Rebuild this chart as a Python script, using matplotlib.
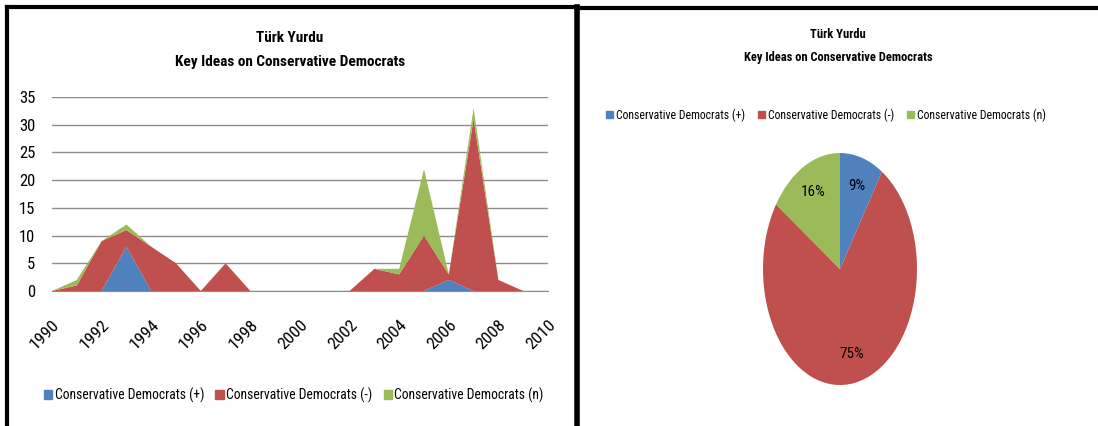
import matplotlib
matplotlib.use('Agg')
import matplotlib.pyplot as plt
from matplotlib.lines import Line2D
from matplotlib.patches import Patch

plt.rcParams['font.family'] = ['Roboto Condensed', 'Carlito', 'DejaVu Sans']

# data
years = list(range(1990, 2011))
positive = [0, 0, 0, 8, 0, 0, 0, 0, 0, 0, 0, 0, 0, 0, 0, 0, 2, 0, 0, 0, 0]
negative = [0, 1, 9, 3, 8, 5, 0, 5, 0, 0, 0, 0, 0, 4, 3, 10, 1, 31, 2, 0, 0]
neutral = [0, 1, 0, 1, 0, 0, 0, 0, 0, 0, 0, 0, 0, 0, 1, 12, 0, 2, 0, 0, 0]
series_names = ['Conservative Democrats (+)', 'Conservative Democrats (-)',
                'Conservative Democrats (n)']
colors = ['#4F81BD', '#C0504D', '#9BBB59']

W, H = 1098, 426
fig = plt.figure(figsize=(W / 100, H / 100), dpi=100)


def px_axes(x0, y0, x1, y1):
    # pixel box (top-left origin) -> figure axes
    return fig.add_axes([x0 / W, 1 - y1 / H, (x1 - x0) / W, (y1 - y0) / H])


# ---- left: stacked area chart ----
ax = px_axes(52, 97, 548, 291)
ax.stackplot(years, positive, negative, neutral, colors=colors, linewidth=0, zorder=3)
ax.set_xlim(1990, 2010)
ax.set_ylim(0, 35)
ax.set_yticks(range(0, 36, 5))
ax.set_xticks(range(1990, 2011, 2))
ax.yaxis.grid(True, color='#8c8c8c', linewidth=1, zorder=0)
ax.set_axisbelow(True)
for s in ['top', 'right', 'left']:
    ax.spines[s].set_visible(False)
ax.spines['bottom'].set_color('#8c8c8c')
ax.tick_params(length=0, labelsize=12)
ax.tick_params(axis='y', pad=12)
ax.tick_params(axis='x', pad=19, labelsize=12.5)
for lab in ax.get_xticklabels():
    lab.set_rotation(45)
    lab.set_ha('right')
    lab.set_va('top')
    lab.set_rotation_mode('anchor')

fig.text(290 / W, 1 - 38 / H, 'Türk Yurdu', ha='center', va='center',
         fontsize=11, fontweight='bold')
fig.text(290 / W, 1 - 62 / H, 'Key Ideas on Conservative Democrats', ha='center',
         va='center', fontsize=11, fontweight='bold')

handles = [Patch(color=c, label=n) for c, n in zip(colors, series_names)]
fig.legend(handles=handles, loc='center', bbox_to_anchor=(294 / W, 1 - 395 / H),
           ncol=3, frameon=False, fontsize=9.8, handlelength=0.6, handleheight=0.6,
           handletextpad=0.2, columnspacing=0.8)

# ---- right: pie chart ----
totals = [sum(positive), sum(negative), sum(neutral)]
pax = px_axes(763, 153, 917, 385)
pax.pie(totals, colors=colors, startangle=90, counterclock=False,
        autopct='%1.0f%%', pctdistance=0.75, textprops={'fontsize': 11})
pax.set_aspect('auto')
pax.set_xlim(-1, 1)
pax.set_ylim(-1, 1)

fig.text(838 / W, 1 - 35 / H, 'Türk Yurdu', ha='center', va='center',
         fontsize=9, fontweight='bold')
fig.text(838 / W, 1 - 57 / H, 'Key Ideas on Conservative Democrats', ha='center',
         va='center', fontsize=9, fontweight='bold')
fig.legend(handles=handles, loc='center', bbox_to_anchor=(826 / W, 1 - 115 / H),
           ncol=3, frameon=False, fontsize=8.5, handlelength=0.6, handleheight=0.6,
           handletextpad=0.25, columnspacing=1.1)

# panel frames
fig.add_artist(Line2D([7 / W, 7 / W], [0, 1 - 7 / H], color='black', lw=3,
                      transform=fig.transFigure))
fig.add_artist(Line2D([7 / W, 577 / W], [1 - 7 / H, 1 - 7 / H], color='black', lw=3,
                      transform=fig.transFigure))
fig.add_artist(Line2D([577 / W, 577 / W], [0, 1 - 7 / H], color='black', lw=4,
                      transform=fig.transFigure))
fig.add_artist(Line2D([577 / W, 1], [1 - 8 / H, 1 - 8 / H], color='black', lw=3,
                      transform=fig.transFigure))

fig.savefig('out.png', dpi=100)
